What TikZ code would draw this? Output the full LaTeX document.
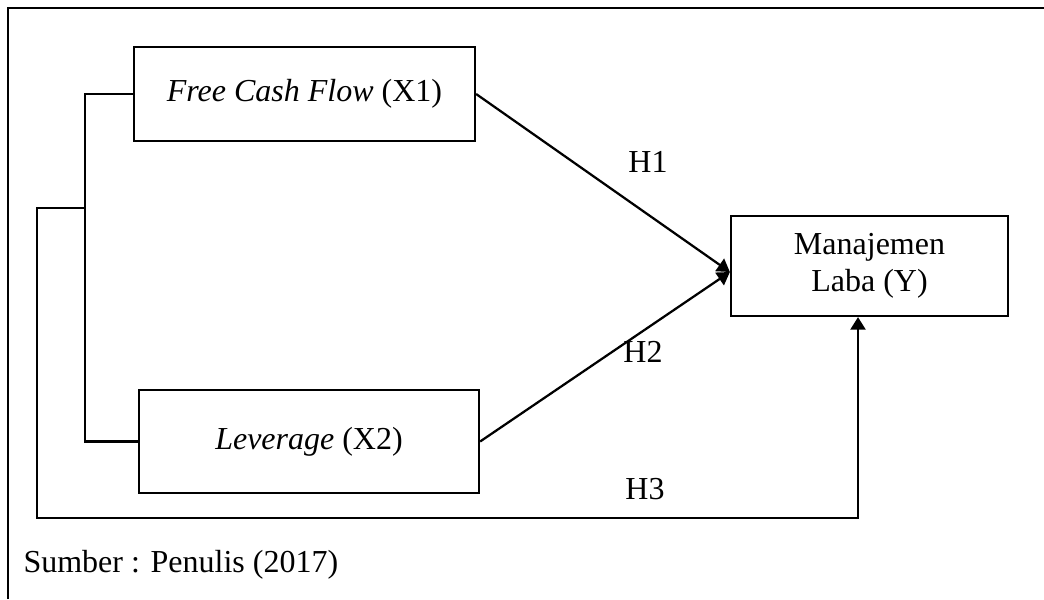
\documentclass[tikz,border=0pt]{standalone}
\usepackage{fontspec}
\setmainfont{Liberation Serif}
\usetikzlibrary{arrows.meta, positioning}

\begin{document}
\begin{tikzpicture}[
        x=0.4pt, y=-0.4pt,
        varnode/.style={rectangle, draw=black, line width=0.9pt, align=center, font=\fontsize{12.8}{14.8}\selectfont, inner sep=0pt},
        hlabel/.style={font=\fontsize{12.8}{14.8}\selectfont},
        line/.style={line width=0.9pt},
        arrow/.style={-{Triangle[width=6pt, length=5pt]}, line width=0.9pt}
    ]
    \useasboundingbox (0,0) rectangle (1044,599);

    % Frame
    \draw[line] (8,599) -- (8,8) -- (1044,8);

    % Main nodes
    \node[varnode, minimum width=136.4pt, minimum height=37.6pt] (fcf) at (304.5,94) {\textit{Free Cash Flow} (X1)};
    \node[varnode, minimum width=136pt, minimum height=41.2pt] (lev) at (309,441.5) {\textit{Leverage} (X2)};
    \node[varnode, minimum width=110.8pt, minimum height=40pt] (laba) at (869.5,266) {Manajemen\\Laba (Y)};

    % Hypothesis labels
    \node[hlabel] (h1) at (648,162) {H1};
    \node[hlabel] (h2) at (643,352) {H2};
    \node[hlabel] (h3) at (645,489) {H3};

    % Arrows
    \coordinate (brk) at (85,208);
    \coordinate (turn) at (858,518);
    \draw[arrow] (fcf.east) -- ([yshift=-2.4pt]laba.west);
    \draw[arrow] (lev.east) -- ([yshift=-2.4pt]laba.west);
    \draw[line] (fcf.west) -| (brk) |- (lev.west);
    \draw[arrow] (brk) -- ++(-48,0) |- (turn) -- (turn |- laba.south);

    % Source
    \node[hlabel, anchor=west, inner sep=0pt] (src) at (23,565) {Sumber : Penulis (2017)};
\end{tikzpicture}
\end{document}
